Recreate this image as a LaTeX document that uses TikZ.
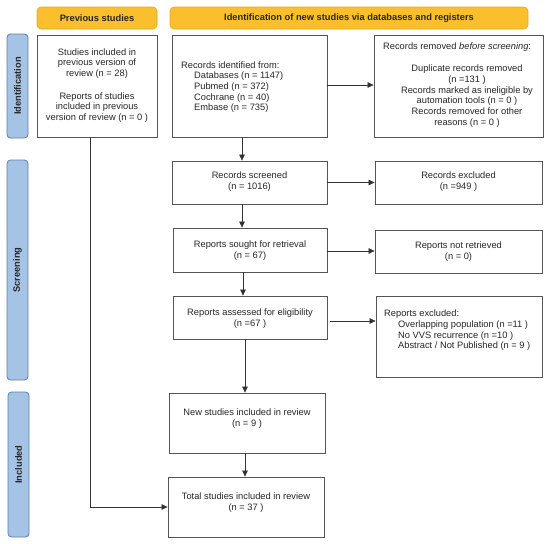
\documentclass[tikz,border=0pt]{standalone}
\usepackage{fontspec}
\setmainfont{Liberation Sans}
\usetikzlibrary{arrows.meta,calc}
\definecolor{hdrfill}{HTML}{FBBE2C}
\definecolor{hdrdraw}{HTML}{E9A91E}
\definecolor{barfill}{HTML}{A5C3E5}
\definecolor{bardraw}{HTML}{5E7FA6}
\definecolor{boxdraw}{HTML}{555555}
\definecolor{txt}{HTML}{262626}
\begin{document}
\begin{tikzpicture}[x=1pt,y=-1pt,
  box/.style={draw=boxdraw,line width=0.8pt,fill=white,inner sep=0pt},
  hdr/.style={draw=hdrdraw,fill=hdrfill,rounded corners=4pt,line width=0.6pt,inner sep=0pt,text=black!85,font=\fontsize{9.3}{11}\selectfont\bfseries},
  bar/.style={draw=bardraw,fill=barfill,rounded corners=3.5pt,line width=0.8pt,inner sep=0pt},
  barlabel/.style={rotate=90,inner sep=0pt,text=black!85,font=\fontsize{9.3}{11}\selectfont\bfseries},
  tx/.style={inner sep=0pt,align=center,text=txt,font=\fontsize{9.3}{10.7}\selectfont},
  txl/.style={inner sep=0pt,align=left,anchor=west,text=txt,font=\fontsize{9.3}{10.7}\selectfont},
  arr/.style={-{Triangle[length=6pt,width=5.5pt]},draw=black!80,line width=0.75pt}
]
\useasboundingbox (0,0) rectangle (550,544);

% headers
\node[hdr,minimum width=120pt,minimum height=22pt] (h1) at (97,18) {Previous studies};
\node[hdr,minimum width=358pt,minimum height=22pt] (h2) at (349,18) {Identification of new studies via databases and registers};

% side bars
\node[bar,minimum width=21pt,minimum height=104pt] (b1) at (17.5,86) {};
\node[barlabel] (l1) at (b1) {Identification};
\node[bar,minimum width=21pt,minimum height=220pt] (b2) at (17.5,270) {};
\node[barlabel] (l2) at (b2) {Screening};
\node[bar,minimum width=21pt,minimum height=145pt] (b3) at (18.5,464.5) {};
\node[barlabel] (l3) at (b3) {Included};

% boxes
\node[box,minimum width=120pt,minimum height=102pt] (prev) at (97,86) {};
\node[box,minimum width=155pt,minimum height=102pt] (ident) at (249.5,86) {};
\node[box,minimum width=169pt,minimum height=102pt] (removed) at (458.5,86) {};
\node[box,minimum width=155pt,minimum height=43pt] (screened) at (249.5,182.5) {};
\node[box,minimum width=167pt,minimum height=43pt] (excluded) at (458.5,182.5) {};
\node[box,minimum width=154pt,minimum height=44pt] (sought) at (250,250) {};
\node[box,minimum width=167pt,minimum height=43pt] (notret) at (458.5,251.5) {};
\node[box,minimum width=154pt,minimum height=43pt] (assessed) at (250,317.5) {};
\node[box,minimum width=166pt,minimum height=81pt] (repexcl) at (459,336.5) {};
\node[box,minimum width=156pt,minimum height=60pt] (newinc) at (247,423) {};
\node[box,minimum width=156pt,minimum height=60pt] (total) at (246,507) {};

% texts
\node[tx] (tprev) at (97,85.5) {Studies included in\\previous version of\\review (n = 28)\\[12pt]Reports of studies\\included in previous\\version of review (n = 0 )};
\node[txl] (tident) at (181,87) {Records identified from:\\\hspace*{13pt}Databases (n = 1147)\\\hspace*{13pt}Pubmed (n = 372)\\\hspace*{13pt}Cochrane (n = 40)\\\hspace*{13pt}Embase (n = 735)};
\node[txl] (trem1) at (383,47) {Records removed \textit{before screening}:};
\node[tx] (trem2) at (467,96) {Duplicate records removed\\(n =131 )\\Records marked as ineligible by\\automation tools (n = 0 )\\Records removed for other\\reasons (n = 0 )};
\node[tx] (tscr) at (249.5,181.5) {Records screened\\(n = 1016)};
\node[tx] (texc) at (458.5,181.5) {Records excluded\\(n =949 )};
\node[tx] (tsou) at (250,250.5) {Reports sought for retrieval\\(n = 67)};
\node[tx] (tnot) at (458.5,251.5) {Reports not retrieved\\(n = 0)};
\node[tx] (tass) at (250,318.5) {Reports assessed for eligibility\\(n =67 )};
\node[txl] (trex) at (384,330.5) {Reports excluded:\\\hspace*{14pt}Overlapping population (n =11 )\\\hspace*{14pt}No VVS recurrence (n =10 )\\\hspace*{14pt}Abstract / Not Published (n = 9 )};
\node[tx] (tnew) at (247,418.5) {New studies included in review\\(n = 9 )};
\node[tx] (ttot) at (246,502.5) {Total studies included in review\\(n = 37 )};

% arrows
\draw[arr] ([xshift=-7.5pt]ident.south) -- ([xshift=-7.5pt]screened.north);
\draw[arr] ([xshift=-7.5pt]screened.south) -- ([xshift=-8pt]sought.north);
\draw[arr] ([xshift=-7pt]sought.south) -- ([xshift=-7pt]assessed.north);
\coordinate (c1) at ([xshift=-5pt]assessed.south);
\draw[arr] (c1) -- (c1 |- newinc.north);
\coordinate (c2) at ([xshift=-2pt]newinc.south);
\draw[arr] (c2) -- (c2 |- total.north);

\coordinate (r1) at ([yshift=1pt]ident.east);
\draw[arr] (r1) -- (r1 -| removed.west);
\draw[arr] (screened.east) -- (screened.east -| excluded.west);
\coordinate (r3) at ([yshift=-1pt]sought.east);
\draw[arr] (r3) -- (r3 -| notret.west);
\coordinate (r4) at ([xshift=3pt,yshift=-3.5pt]assessed.east);
\draw[arr] (r4) -- (r4 -| repexcl.west);

\coordinate (c0) at ([xshift=-7pt]prev.south);
\draw[arr] (c0) |- (total.west);
\end{tikzpicture}
\end{document}
